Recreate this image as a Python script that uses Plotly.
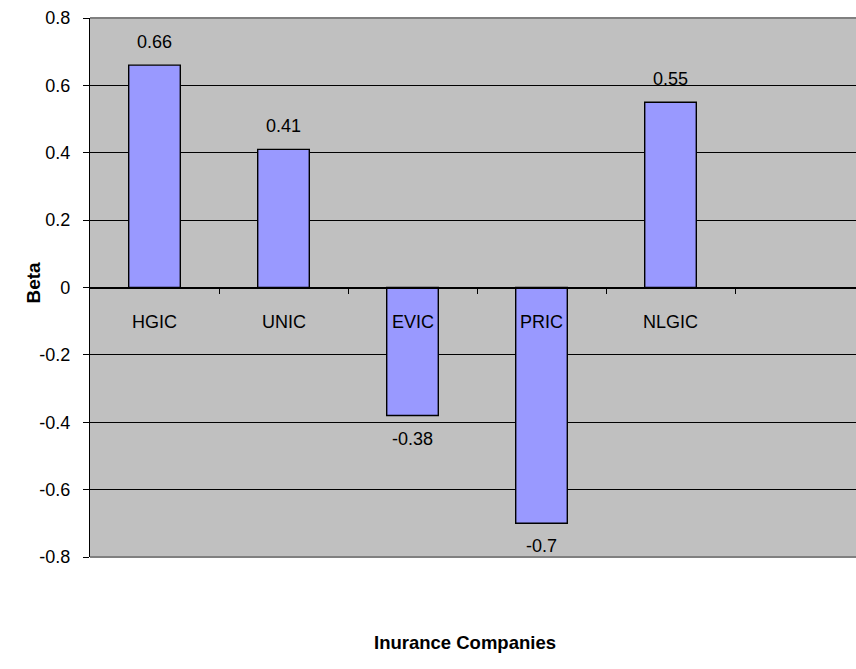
import plotly.graph_objects as go

# Beta estimates per insurance company
companies = ["HGIC", "UNIC", "EVIC", "PRIC", "NLGIC"]
beta = [0.66, 0.41, -0.38, -0.70, 0.55]
beta_labels = ["0.66", "0.41", "-0.38", "-0.7", "0.55"]

y_ticks = [-0.8, -0.6, -0.4, -0.2, 0, 0.2, 0.4, 0.6, 0.8]
y_tick_text = ["-0.8", "-0.6", "-0.4", "-0.2", "0", "0.2", "0.4", "0.6", "0.8"]

FONT = "Liberation Sans, Arial, sans-serif"
positions = list(range(len(companies)))

# canvas and plot-area geometry (pixels)
W, H = 856, 669
ML, MR, MT, MB = 90, 0, 18, 112
pw, ph = W - ML - MR, H - MT - MB
CAT_PX = 129.0  # width of one category slot


def px_to_paper(x_px, y_px):
    return (x_px - ML) / pw, (H - MB - y_px) / ph


fig = go.Figure()
fig.add_trace(go.Bar(
    x=positions,
    y=beta,
    width=0.4,
    marker=dict(color="#9999FF", line=dict(color="#000000", width=1.4)),
    hoverinfo="skip",
))

annotations = []
# value labels above/below each bar
for xi, val, lab in zip(positions, beta, beta_labels):
    annotations.append(dict(
        x=xi, y=val, xref="x", yref="y", text=lab, showarrow=False,
        yshift=23 if val >= 0 else -23,
        font=dict(family=FONT, size=18, color="#000000"),
    ))
# category names just under the zero line
for xi, name in zip(positions, companies):
    annotations.append(dict(
        x=xi, y=0, xref="x", yref="y", text=name, showarrow=False,
        yshift=-34,
        font=dict(family=FONT, size=18, color="#000000"),
    ))

# axis titles
tx, ty = px_to_paper(465, 655)
annotations.append(dict(
    x=tx, y=ty, xref="paper", yref="paper", text="<b>Inurance Companies</b>",
    showarrow=False, font=dict(family=FONT, size=18.5, color="#000000"),
))
bx, by = px_to_paper(20, 283)
annotations.append(dict(
    x=bx, y=by, xref="paper", yref="paper", text="<b>Beta</b>",
    showarrow=False, textangle=-90,
    font=dict(family=FONT, size=19, color="#000000"),
))

fig.update_layout(
    width=W, height=H,
    margin=dict(l=ML, r=MR, t=MT, b=MB, pad=0),
    paper_bgcolor="#FFFFFF",
    plot_bgcolor="#C0C0C0",
    showlegend=False,
    annotations=annotations,
    xaxis=dict(
        range=[-0.5, -0.5 + pw / CAT_PX],
        anchor="free", position=0.5,
        showline=True, linecolor="#000000", linewidth=1,
        ticks="outside", ticklen=5, tickwidth=1, tickcolor="#000000",
        tickvals=[p + 0.5 for p in positions],
        showticklabels=False, showgrid=False, zeroline=False,
        fixedrange=True,
    ),
    yaxis=dict(
        range=[-0.8, 0.8],
        tickvals=y_ticks, ticktext=y_tick_text,
        showline=True, linecolor="#000000", linewidth=1.3,
        ticks="outside", ticklen=6, tickwidth=1, tickcolor="#000000",
        ticklabelstandoff=9,
        showgrid=True, gridcolor="#000000", gridwidth=1,
        zeroline=False,
        tickfont=dict(family=FONT, size=18, color="#000000"),
        fixedrange=True,
    ),
    shapes=[
        dict(type="line", xref="paper", yref="paper", x0=0, x1=1, y0=1, y1=1,
             line=dict(color="#808080", width=2), layer="above"),
        dict(type="line", xref="paper", yref="paper", x0=0, x1=1, y0=0, y1=0,
             line=dict(color="#808080", width=2), layer="above"),
    ],
)

fig.write_html("out.html")
